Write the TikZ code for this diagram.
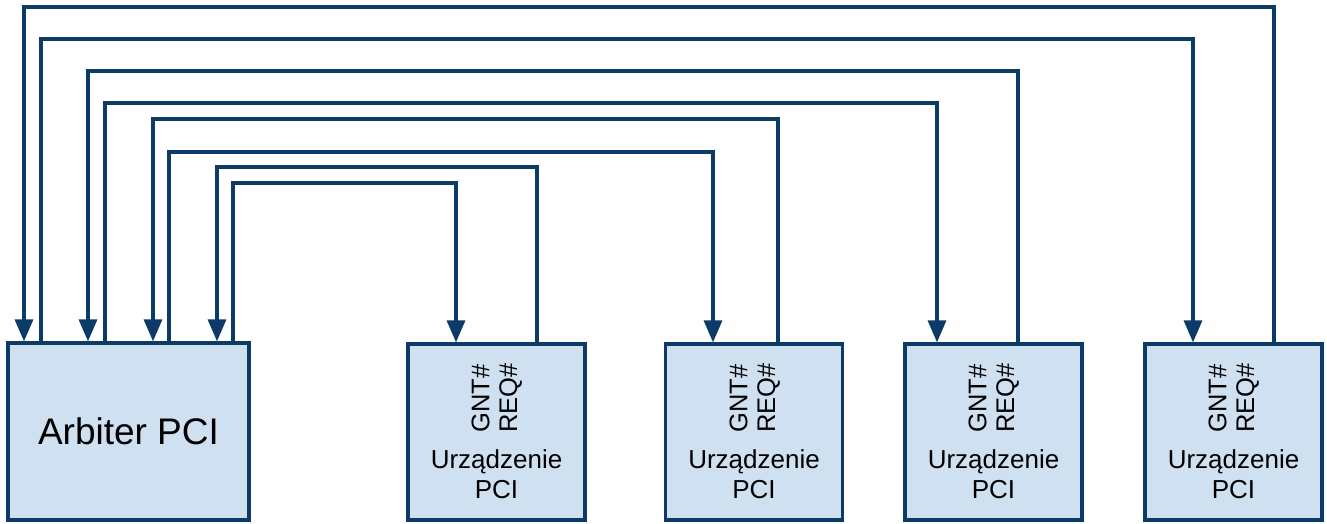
\documentclass[tikz,border=0pt]{standalone}
\usepackage{fontspec}
\setmainfont{Liberation Sans}
\usetikzlibrary{arrows.meta}
\definecolor{wire}{RGB}{12,59,104}
\definecolor{boxfill}{RGB}{207,224,241}
\begin{document}
\begin{tikzpicture}[x=1pt,y=-1pt,
  unit/.style={draw=wire, fill=boxfill, line width=3.2pt, inner sep=0pt},
  sig/.style={draw=wire, line width=3.2pt, line join=miter},
  grant/.style={sig, -{Triangle[width=18pt,length=22pt]}},
  pinlabel/.style={rotate=90, anchor=west, inner sep=0pt, font=\fontsize{25.5}{25.5}\selectfont},
  devtext/.style={anchor=base, inner sep=0pt, font=\fontsize{26}{26}\selectfont}]
\useasboundingbox (0,0) rectangle (1327,523);

% arbiter
\node[unit, minimum width=241pt, minimum height=177pt,
      font=\fontsize{37}{37}\selectfont] (arb) at (128.5,431.5) {Arbiter PCI};

% PCI devices: name / centre x / left edge
\foreach \d/\cx/\lx in {d1/496.5/408, d2/754/666, d3/993.5/905, d4/1233.5/1145}{
  \node[unit, minimum width=177pt, minimum height=176pt] (\d) at (\cx,432) {};
  \node[pinlabel] (\d gnt) at (\lx+72.5,433) {GNT\#};
  \node[pinlabel] (\d req) at (\lx+102.5,433) {REQ\#};
  \node[devtext] (\d name) at (\cx,468) {Urządzenie};
  \node[devtext] (\d pci) at (\cx,498) {PCI};
}

% pins on the arbiter
\coordinate (aR4) at (arb.north -| 24,0);
\coordinate (aG4) at (arb.north -| 41,0);
\coordinate (aR3) at (arb.north -| 88,0);
\coordinate (aG3) at (arb.north -| 105,0);
\coordinate (aR2) at (arb.north -| 153,0);
\coordinate (aG2) at (arb.north -| 169,0);
\coordinate (aR1) at (arb.north -| 217,0);
\coordinate (aG1) at (arb.north -| 233,0);

% pins on the devices
\coordinate (g1) at (d1.north -| 456,0);
\coordinate (r1) at (d1.north -| 537,0);
\coordinate (g2) at (d2.north -| 713,0);
\coordinate (r2) at (d2.north -| 778,0);
\coordinate (g3) at (d3.north -| 937,0);
\coordinate (r3) at (d3.north -| 1018,0);
\coordinate (g4) at (d4.north -| 1193,0);
\coordinate (r4) at (d4.north -| 1274,0);

% REQ# lines into the arbiter
\draw[grant] (r4) -- (r4 |- 0,7)   -| (aR4);
\draw[grant] (r3) -- (r3 |- 0,71)  -| (aR3);
\draw[grant] (r2) -- (r2 |- 0,119) -| (aR2);
\draw[grant] (r1) -- (r1 |- 0,167) -| (aR1);

% GNT# lines out of the arbiter
\draw[grant] (aG4) -- (aG4 |- 0,39)  -| (g4);
\draw[grant] (aG3) -- (aG3 |- 0,103) -| (g3);
\draw[grant] (aG2) -- (aG2 |- 0,152) -| (g2);
\draw[grant] (aG1) -- (aG1 |- 0,183) -| (g1);
\end{tikzpicture}
\end{document}
